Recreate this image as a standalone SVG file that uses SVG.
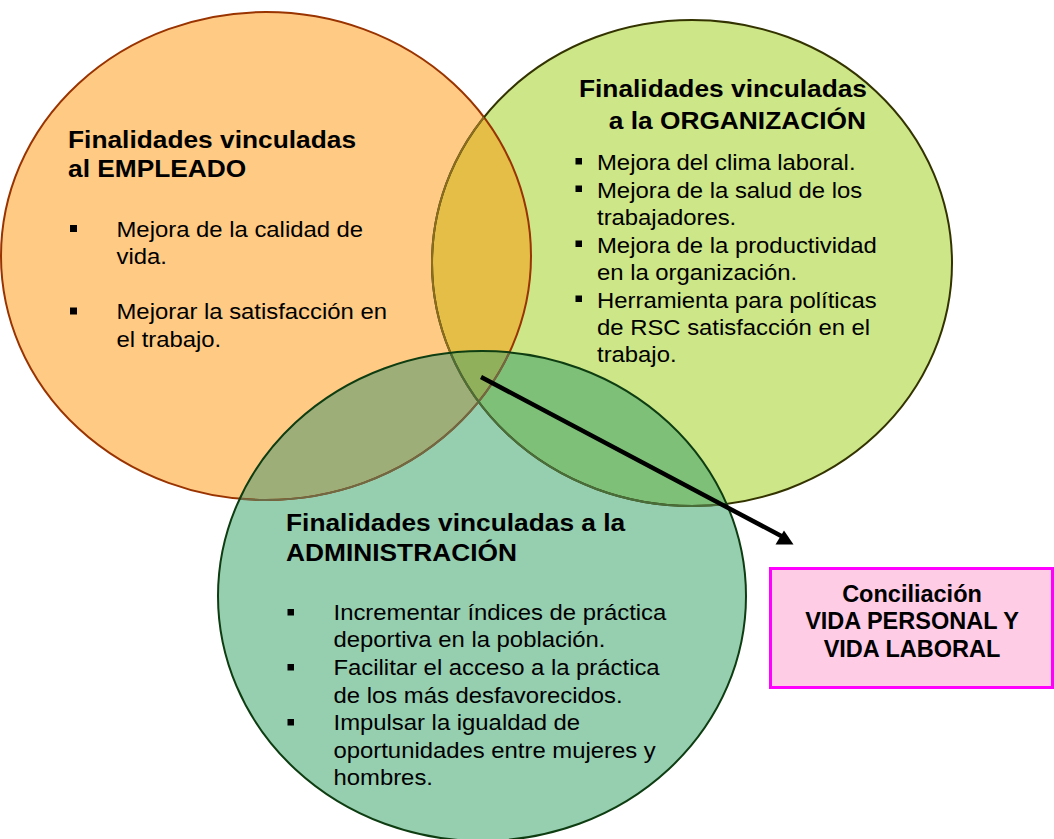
<svg xmlns="http://www.w3.org/2000/svg" width="1054" height="839" viewBox="0 0 1054 839">
  <style>
    .h { font-family: "Liberation Sans", Arial, sans-serif; font-weight: bold; font-size: 23.5px; fill: #000; }
    .b { font-family: "Liberation Sans", Arial, sans-serif; font-size: 22px; fill: #000; }
    .p { font-family: "Liberation Sans", Arial, sans-serif; font-weight: bold; font-size: 23.5px; fill: #000; text-anchor: middle; }
    .bul { fill: #000; }
    .ol { fill: none; stroke-width: 2; }
  </style>
  <defs>
    <ellipse id="eOrange" cx="266" cy="256" rx="265" ry="244"/>
    <ellipse id="eGreen" cx="692" cy="263" rx="260" ry="243"/>
    <ellipse id="eTeal" cx="482" cy="596" rx="264" ry="245"/>
    <clipPath id="cOrange"><use href="#eOrange"/></clipPath>
    <clipPath id="cGreen"><use href="#eGreen"/></clipPath>
    <clipPath id="cTeal"><use href="#eTeal"/></clipPath>
  </defs>
  <rect x="0" y="0" width="1054" height="839" fill="#FFFFFF"/>

  <g id="node-empleado">
    <use href="#eOrange" fill="#FFCA84"/>
    <text class="h" transform="translate(68,148) scale(1.12,1)">Finalidades vinculadas</text>
    <text class="h" transform="translate(68,177) scale(1.12,1)">al EMPLEADO</text>
    <rect class="bul" x="70" y="225" width="7" height="7"/>
    <text class="b" transform="translate(116.5,237) scale(1.085,1)">Mejora de la calidad de</text>
    <text class="b" transform="translate(116.5,264) scale(1.085,1)">vida.</text>
    <rect class="bul" x="70" y="307.5" width="7" height="7"/>
    <text class="b" transform="translate(116.5,319) scale(1.085,1)">Mejorar la satisfacción en</text>
    <text class="b" transform="translate(116.5,346.5) scale(1.085,1)">el trabajo.</text>
  </g>

  <g id="node-organizacion">
    <use href="#eGreen" fill="#CDE687"/>
    <text class="h" text-anchor="end" transform="translate(867,97) scale(1.12,1)">Finalidades vinculadas</text>
    <text class="h" text-anchor="end" transform="translate(866,128.5) scale(1.12,1)">a la ORGANIZACIÓN</text>
    <rect class="bul" x="575.5" y="158" width="6.5" height="6.5"/>
    <text class="b" transform="translate(597,170) scale(1.085,1)">Mejora del clima laboral.</text>
    <rect class="bul" x="575.5" y="185.5" width="6.5" height="6.5"/>
    <text class="b" transform="translate(597,197.5) scale(1.085,1)">Mejora de la salud de los</text>
    <text class="b" transform="translate(597,225) scale(1.085,1)">trabajadores.</text>
    <rect class="bul" x="575.5" y="240.5" width="6.5" height="6.5"/>
    <text class="b" transform="translate(597,252.5) scale(1.085,1)">Mejora de la productividad</text>
    <text class="b" transform="translate(597,280) scale(1.085,1)">en la organización.</text>
    <rect class="bul" x="575.5" y="295.5" width="6.5" height="6.5"/>
    <text class="b" transform="translate(597,307.5) scale(1.085,1)">Herramienta para políticas</text>
    <text class="b" transform="translate(597,335) scale(1.085,1)">de RSC satisfacción en el</text>
    <text class="b" transform="translate(597,362) scale(1.085,1)">trabajo.</text>
  </g>

  <g id="node-administracion">
    <use href="#eTeal" fill="#96CEB0"/>
    <text class="h" transform="translate(286,531) scale(1.12,1)">Finalidades vinculadas a la</text>
    <text class="h" transform="translate(286,561) scale(1.12,1)">ADMINISTRACIÓN</text>
    <rect class="bul" x="287.5" y="609" width="6.5" height="6.5"/>
    <text class="b" transform="translate(333.5,620) scale(1.085,1)">Incrementar índices de práctica</text>
    <text class="b" transform="translate(333.5,647) scale(1.085,1)">deportiva en la población.</text>
    <rect class="bul" x="287.5" y="664" width="6.5" height="6.5"/>
    <text class="b" transform="translate(333.5,675) scale(1.085,1)">Facilitar el acceso a la práctica</text>
    <text class="b" transform="translate(333.5,702.5) scale(1.085,1)">de los más desfavorecidos.</text>
    <rect class="bul" x="287.5" y="719" width="6.5" height="6.5"/>
    <text class="b" transform="translate(333.5,730) scale(1.085,1)">Impulsar la igualdad de</text>
    <text class="b" transform="translate(333.5,757.5) scale(1.085,1)">oportunidades entre mujeres y</text>
    <text class="b" transform="translate(333.5,785) scale(1.085,1)">hombres.</text>
  </g>

  <g id="overlaps">
    <g clip-path="url(#cOrange)"><use href="#eGreen" fill="#E4BE46"/></g>
    <g clip-path="url(#cOrange)"><use href="#eTeal" fill="#9DAE78"/></g>
    <g clip-path="url(#cGreen)"><use href="#eTeal" fill="#7EC078"/></g>
    <g clip-path="url(#cOrange)"><g clip-path="url(#cGreen)"><use href="#eTeal" fill="#91B05C"/></g></g>
  </g>

  <g id="outlines">
    <use href="#eOrange" class="ol" stroke="#993300"/>
    <use href="#eGreen" class="ol" stroke="#333300"/>
    <g clip-path="url(#cOrange)"><use href="#eGreen" class="ol" stroke="#8C6D1F"/></g>
    <g clip-path="url(#cTeal)"><use href="#eOrange" class="ol" stroke="#6E6A45"/></g>
    <g clip-path="url(#cTeal)"><use href="#eGreen" class="ol" stroke="#4A6E3A"/></g>
    <use href="#eTeal" class="ol" stroke="#0E3D12"/>
  </g>

  <g id="node-conciliacion">
    <rect x="770.5" y="568.5" width="282" height="119" fill="#FFCCE6" stroke="#FF00FF" stroke-width="3"/>
    <text class="p" x="912" y="602">Conciliación</text>
    <text class="p" x="912" y="629">VIDA PERSONAL Y</text>
    <text class="p" x="912" y="657">VIDA LABORAL</text>
  </g>

  <g id="connectors">
    <line x1="481" y1="377" x2="785" y2="538" stroke="#000" stroke-width="4.5"/>
    <polygon points="775.5,544.5 793.5,544.5 784,530.5" fill="#000"/>
  </g>
</svg>
